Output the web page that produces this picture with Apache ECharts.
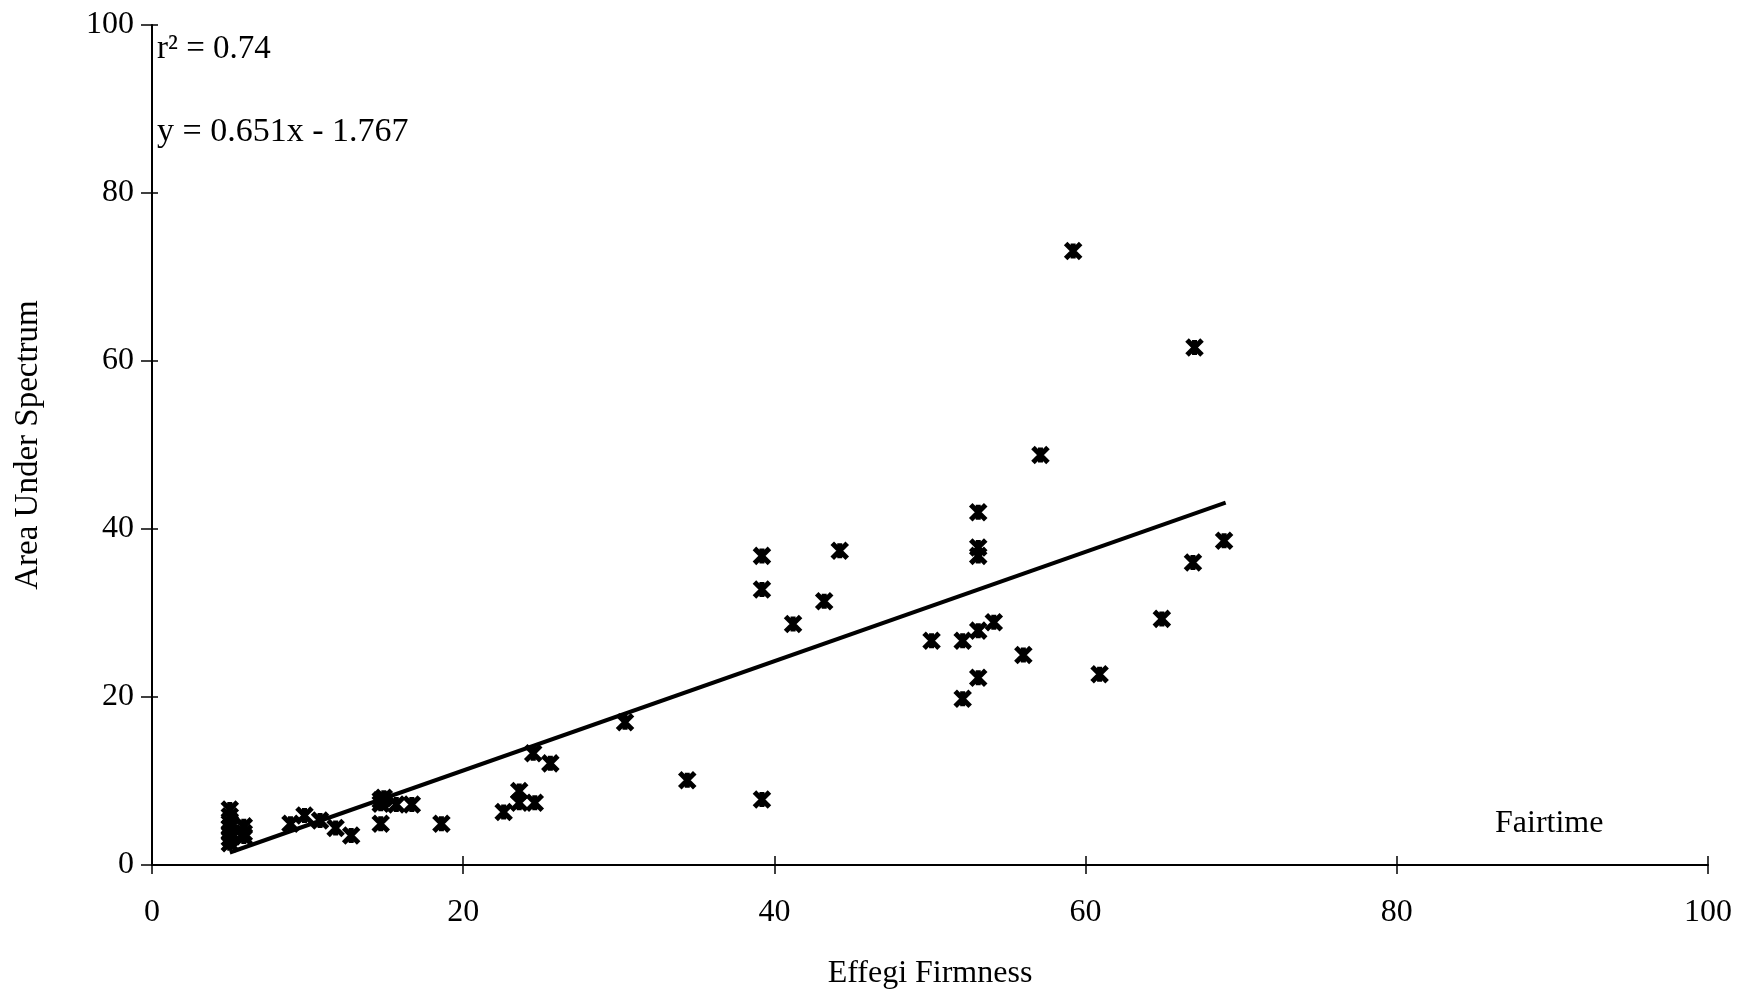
<!DOCTYPE html>
<html>
<head>
<meta charset="utf-8">
<title>Effegi Firmness vs Area Under Spectrum</title>
<script src="https://cdn.jsdelivr.net/npm/echarts@6/dist/echarts.min.js"></script>
<style>
  html, body { margin: 0; padding: 0; background: #fff; }
  #chart { width: 1744px; height: 998px; }
</style>
</head>
<body>
<div id="chart"></div>
<script>
// Effegi firmness (x) against area under the acoustic spectrum (y), Fairtime samples
const firmness = [
  59.2, 67.0, 57.1, 53.1, 53.1, 53.1, 39.2, 44.2, 39.2, 43.2,
  41.2, 68.9, 66.9, 64.9, 54.1, 53.1, 52.1, 50.1, 56.0, 60.9,
  53.1, 52.1, 30.4, 39.2, 34.4, 24.5, 25.6, 23.6, 23.6, 24.6,
  22.6, 18.6, 16.7, 15.7, 14.7, 14.9, 14.7, 14.7, 12.8, 11.8,
  10.8, 9.8, 8.9,
  5.0, 5.0, 5.0, 5.0, 5.0, 5.0, 5.0, 5.9, 5.9, 5.9
];
const area = [
  73.1, 61.6, 48.8, 42.0, 37.8, 36.8, 36.8, 37.4, 32.8, 31.4,
  28.7, 38.6, 36.0, 29.3, 28.9, 27.9, 26.7, 26.7, 25.0, 22.7,
  22.3, 19.8, 17.0, 7.8, 10.1, 13.3, 12.1, 8.8, 7.4, 7.4,
  6.3, 4.9, 7.2, 7.2, 7.7, 8.0, 7.3, 4.9, 3.5, 4.4,
  5.3, 5.9, 4.9,
  6.6, 5.8, 5.0, 4.4, 3.8, 3.2, 2.6, 4.6, 3.8, 3.4
];

// Fitted regression as printed on the chart
const slope = 0.651;
const intercept = -1.767;
const rSquared = '0.74';
const fitRange = [5, 69];

const axisTicks = [0, 20, 40, 60, 80, 100];
const xTitle = 'Effegi Firmness';
const yTitle = 'Area Under Spectrum';
const groupLabel = 'Fairtime';

const points = firmness.map((x, i) => [x, area[i]]);
const fitLine = fitRange.map(x => [x, slope * x + intercept]);

const serif = '"Liberation Serif", "Times New Roman", serif';
const ink = '#000';

// Excel-style star marker: an X crossed by a vertical bar
const starPath = 'path://M0,0L10,10M10,0L0,10M5,0L5,10';

const chart = echarts.init(document.getElementById('chart'), null, { renderer: 'canvas' });

const baseAxis = {
  type: 'value',
  min: axisTicks[0],
  max: axisTicks[axisTicks.length - 1],
  interval: 20,
  splitLine: { show: false }
};

chart.setOption({
  backgroundColor: '#fff',
  animation: false,
  grid: { left: 152, right: 36, top: 25, bottom: 133 },
  xAxis: [
    Object.assign({}, baseAxis, {
      position: 'bottom',
      name: xTitle,
      nameLocation: 'middle',
      nameGap: 93,
      nameTextStyle: { fontFamily: serif, fontSize: 32, color: ink },
      axisLine: { show: true, lineStyle: { color: ink, width: 2 } },
      axisTick: { show: true, inside: false, length: 9, lineStyle: { color: ink, width: 1.5 } },
      axisLabel: { margin: 32, fontFamily: serif, fontSize: 32, color: ink }
    }),
    Object.assign({}, baseAxis, {
      position: 'bottom',
      axisLine: { show: false },
      axisTick: { show: true, inside: true, length: 9, lineStyle: { color: ink, width: 1.5 } },
      axisLabel: { show: false }
    })
  ],
  yAxis: [
    Object.assign({}, baseAxis, {
      position: 'left',
      name: yTitle,
      nameLocation: 'middle',
      nameGap: 107,
      nameRotate: 90,
      nameTextStyle: { fontFamily: serif, fontSize: 33, color: ink },
      axisLine: { show: true, lineStyle: { color: ink, width: 2 } },
      axisTick: { show: true, inside: false, length: 11, lineStyle: { color: ink, width: 1.5 } },
      axisLabel: { margin: 18, fontFamily: serif, fontSize: 32, color: ink }
    }),
    Object.assign({}, baseAxis, {
      position: 'left',
      axisLine: { show: false },
      axisTick: { show: true, inside: true, length: 6, lineStyle: { color: ink, width: 1.5 } },
      axisLabel: { show: false }
    })
  ],
  series: [
    {
      name: 'fit',
      type: 'line',
      data: fitLine,
      xAxisIndex: 0,
      yAxisIndex: 0,
      showSymbol: false,
      symbol: 'none',
      lineStyle: { color: ink, width: 4 },
      z: 2
    },
    {
      name: groupLabel,
      type: 'scatter',
      data: points,
      xAxisIndex: 0,
      yAxisIndex: 0,
      symbol: starPath,
      symbolSize: 15,
      itemStyle: { color: ink, borderColor: ink, borderWidth: 5, opacity: 1 },
      z: 3
    }
  ],
  graphic: [
    {
      type: 'text',
      left: 157,
      top: 33,
      style: { text: 'r² = ' + rSquared, fontFamily: serif, fontSize: 33, fill: ink }
    },
    {
      type: 'text',
      left: 157,
      top: 115,
      style: {
        text: 'y = ' + slope.toFixed(3) + 'x - ' + Math.abs(intercept).toFixed(3),
        fontFamily: serif, fontSize: 34, fill: ink
      }
    },
    {
      type: 'text',
      left: 1495,
      top: 808,
      style: { text: groupLabel, fontFamily: serif, fontSize: 32, fill: ink }
    }
  ]
});
</script>
</body>
</html>
